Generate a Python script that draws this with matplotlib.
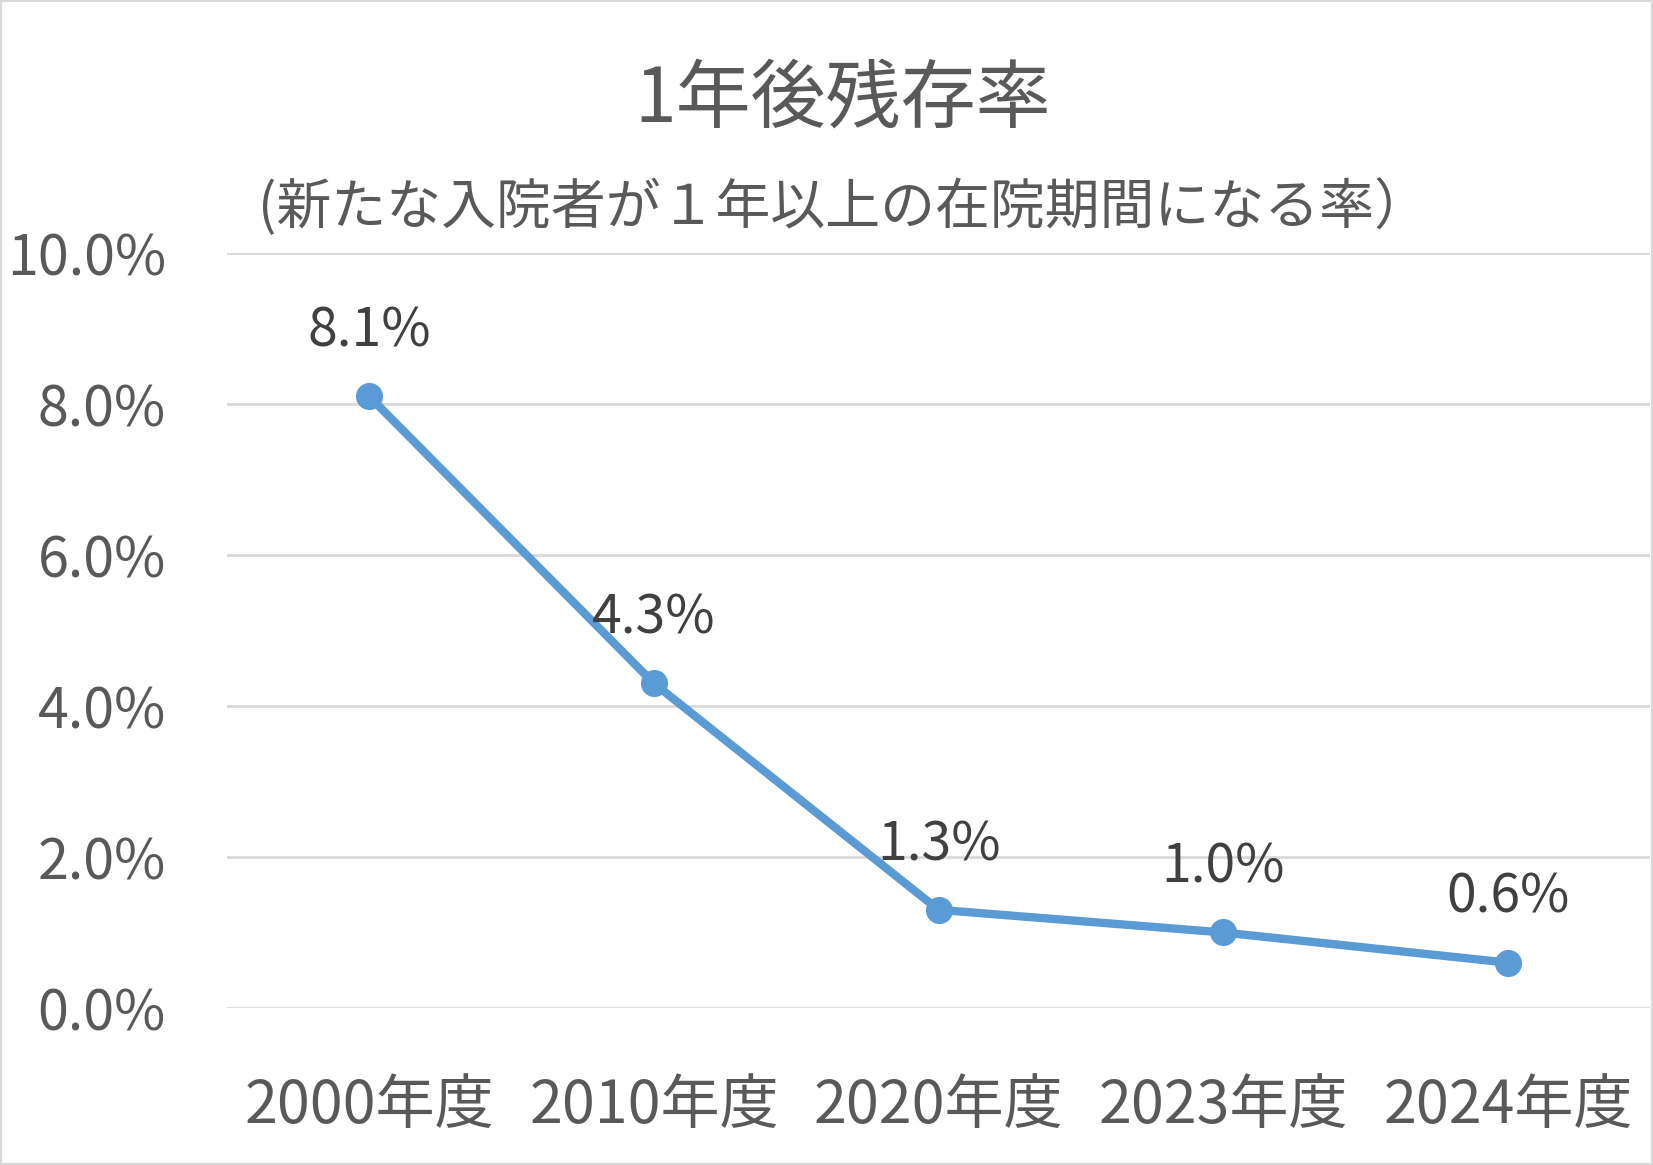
import matplotlib
matplotlib.use('Agg')
import matplotlib.pyplot as plt
from matplotlib.patches import Rectangle

plt.rcParams['font.family'] = ['Noto Sans CJK JP', 'DejaVu Sans']

# data
years = ['2000年度', '2010年度', '2020年度', '2023年度', '2024年度']
rate = [8.1, 4.3, 1.3, 1.0, 0.6]   # %
labels = ['8.1%', '4.3%', '1.3%', '1.0%', '0.6%']
yticks = [0, 2, 4, 6, 8, 10]
ytick_labels = ['0.0%', '2.0%', '4.0%', '6.0%', '8.0%', '10.0%']

fig = plt.figure(figsize=(16.53, 11.65), dpi=100)
ax = fig.add_axes([0.1373, 0.1348, 0.861, 0.648])

x = list(range(len(years)))
ax.plot(x, rate, color='#5B9BD5', lw=6, marker='o', ms=18.5, solid_capstyle='round', zorder=3)

for xi, yi, lab in zip(x, rate, labels):
    ax.annotate(lab, (xi, yi), xytext=(0, 47), textcoords='offset points',
                ha='center', va='center', fontsize=38.5, color='#404040')

ax.set_xlim(-0.5, len(years) - 0.5)
ax.set_ylim(0, 10)
ax.set_yticks(yticks)
ax.set_yticklabels(ytick_labels)
ax.set_xticks(x)
ax.set_xticklabels(years)
ax.tick_params(axis='y', length=0, pad=44, labelsize=40, labelcolor='#595959')
ax.tick_params(axis='x', length=0, pad=49, labelsize=42.5, labelcolor='#595959')
ax.grid(axis='y', color='#D9D9D9', lw=2)
ax.set_axisbelow(True)
for s in ax.spines.values():
    s.set_visible(False)

fig.text(0.51, 0.914, '1年後残存率', ha='center', va='center', fontsize=54, color='#595959')
fig.text(0.156, 0.821, '(新たな入院者が１年以上の在院期間になる率）', ha='left', va='center',
         fontsize=39.5, color='#595959')

fig.patches.append(Rectangle((0, 0), 1, 1, transform=fig.transFigure, fill=False,
                             edgecolor='#D9D9D9', lw=3))

fig.savefig('out.png', dpi=100)
